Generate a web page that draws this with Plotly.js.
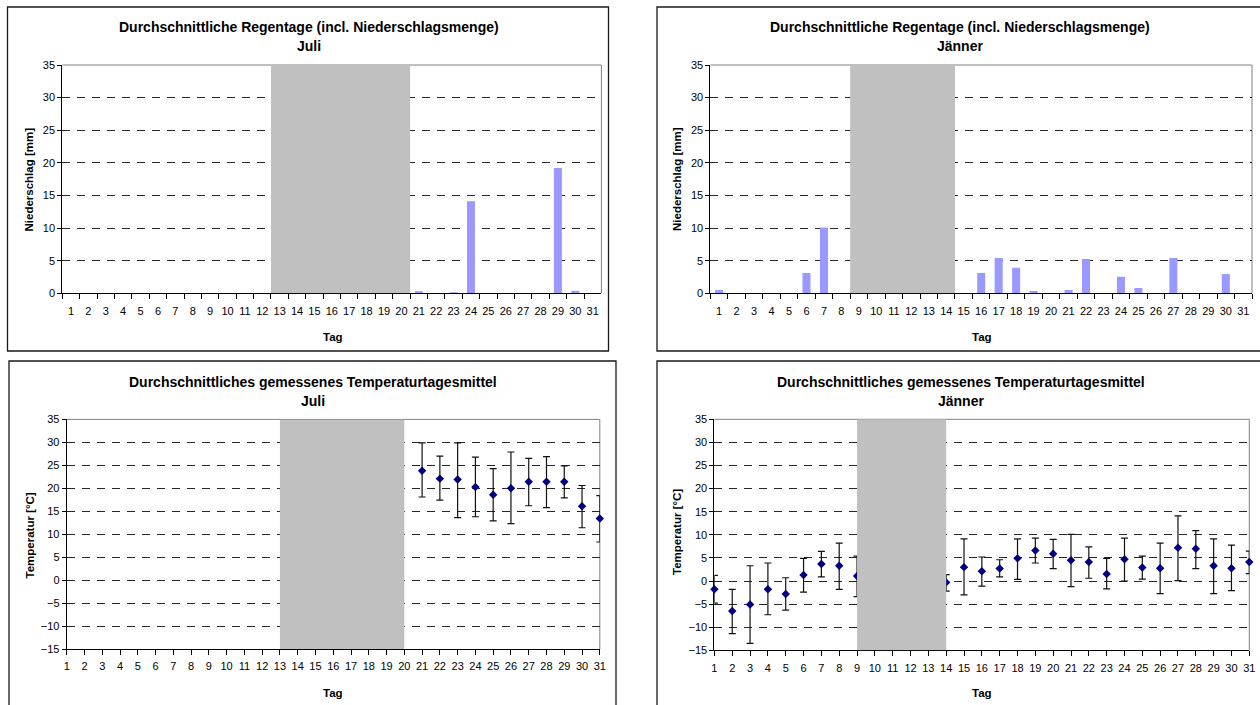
<!DOCTYPE html>
<html><head><meta charset="utf-8">
<script src="https://cdn.plot.ly/plotly-3.0.1.min.js"></script>
<style>html,body{margin:0;padding:0;background:#fff;}#chart{width:1260px;height:705px;}</style>
</head><body><div id="chart"></div>
<script>
// ---------- data ----------
const days = [1,2,3,4,5,6,7,8,9,10,11,12,13,14,15,16,17,18,19,20,21,22,23,24,25,26,27,28,29,30,31];
const dayLabels = ["1","2","3","4","5","6","7","8","9","10","11","12","13","14","15","16","17","18","19","20","21","22","23","24","25","26","27","28","29","30","31"];

const precipJuli = [0,0,0,0,0,0,0,0,0,0,0,0, null,null,null,null,null,null,null,null, 0.3,0,0.15,14.1,0,0,0,0,19.2,0.4,0];
const precipJaenner = [0.5,0,0,0,0,3.1,10.1,0, null,null,null,null,null,null, 0,3.1,5.4,3.9,0.35,0,0.5,5.25,0,2.55,0.8,0,5.4,0,0,2.95,0];

const tempJuliMean = [null,null,null,null,null,null,null,null,null,null,null,null,null,null,null,null,null,null,null,null, 23.8,22.1,21.9,20.3,18.6,20.0,21.4,21.4,21.4,16.1,13.4];
const tempJuliMax  = [null,null,null,null,null,null,null,null,null,null,null,null,null,null,null,null,null,null,null,null, 29.9,27.0,29.9,26.8,24.3,27.9,26.5,26.9,24.9,20.6,18.4];
const tempJuliMin  = [null,null,null,null,null,null,null,null,null,null,null,null,null,null,null,null,null,null,null,null, 18.1,17.4,13.6,13.8,12.9,12.3,16.2,15.8,17.9,11.4,8.3];

const tempJanMean = [-1.8,-6.5,-5.1,-1.8,-2.8,1.3,3.7,3.3,1.1, null,null,null,null, -0.3,3.0,2.1,2.7,4.9,6.6,5.9,4.5,4.1,1.5,4.7,2.9,2.75,7.2,7.0,3.3,2.75,4.1];
const tempJanMax  = [1.2,-1.8,3.3,3.9,0.7,4.9,6.4,8.2,5.4, null,null,null,null, 1.4,9.1,5.2,4.6,9.1,9.3,9.0,10.1,7.4,4.9,9.3,5.4,8.2,14.1,10.9,9.1,7.75,6.45];
const tempJanMin  = [-4.8,-11.4,-13.5,-7.3,-6.3,-2.4,0.9,-1.8,-3.4, null,null,null,null, -2.2,-3.0,-1.1,0.9,0.36,3.9,2.7,-1.2,0.6,-1.7,0,0.4,-2.75,0.1,2.7,-2.75,-2.1,1.6];

const missingJuli = [13, 20];
const missingJaenner = [9, 14];

const titlePrecip = "Durchschnittliche Regentage (incl. Niederschlagsmenge)";
const titleTemp = "Durchschnittliches gemessenes Temperaturtagesmittel";
const monthJuli = "Juli";
const monthJaenner = "Jänner";
const yTitlePrecip = "Niederschlag [mm]";
const yTitleTemp = "Temperatur [°C]";
const xTitle = "Tag";

// ---------- helpers ----------
const W = 1260, H = 705;
const px = v => v / W;
const py = v => 1 - v / H;
const FONT = "Liberation Sans, Arial, Helvetica, sans-serif";
const plus = (mx, mean) => mean.map((m, i) => m == null ? null : +(mx[i] - m).toFixed(3));
const minus = (mn, mean) => mean.map((m, i) => m == null ? null : +(m - mn[i]).toFixed(3));

const barColor = "#9999ff";
const gridStyle = {showgrid: true, gridcolor: "#262626", griddash: "8px,7px", gridwidth: 1};
const tickFont = {family: FONT, size: 11, color: "#000"};

function barTrace(vals, xa, ya) {
  return {type: "bar", x: dayLabels, y: vals, xaxis: xa, yaxis: ya,
    marker: {color: barColor, line: {width: 0}}, hoverinfo: "x+y"};
}
function tempTrace(mean, mx, mn, xa, ya) {
  return {type: "scatter", mode: "markers", x: days, y: mean, xaxis: xa, yaxis: ya,
    cliponaxis: false,
    marker: {symbol: "diamond", size: 6.5, color: "#000080"},
    error_y: {type: "data", symmetric: false, array: plus(mx, mean), arrayminus: minus(mn, mean),
      color: "#111", thickness: 1.2, width: 3.5}};
}

const data = [
  barTrace(precipJuli, "x", "y"),
  barTrace(precipJaenner, "x2", "y2"),
  tempTrace(tempJuliMean, tempJuliMax, tempJuliMin, "x3", "y3"),
  tempTrace(tempJanMean, tempJanMax, tempJanMin, "x4", "y4")
];

function catX(domain, anchor) {
  return {domain: domain, anchor: anchor, type: "category", range: [-0.5, 30.5],
    tickson: "boundaries", ticks: "outside", ticklen: 5, tickcolor: "#000", tickwidth: 1,
    showline: true, linecolor: "#000", linewidth: 1, showgrid: false, zeroline: false,
    tickangle: 0, tickfont: tickFont, ticklabelstandoff: 7, fixedrange: true};
}
function linX(domain, anchor) {
  return {domain: domain, anchor: anchor, type: "linear", range: [1, 31], tick0: 1, dtick: 1,
    ticks: "outside", ticklen: 5, tickcolor: "#000", tickwidth: 1,
    showline: true, linecolor: "#000", linewidth: 1, showgrid: false, zeroline: false,
    tickangle: 0, tickfont: tickFont, ticklabelstandoff: 2, fixedrange: true};
}
function yAx(domain, anchor, range) {
  return Object.assign({domain: domain, anchor: anchor, range: range, tick0: 0, dtick: 5,
    ticks: "outside", ticklen: 4, tickcolor: "#000", tickwidth: 1,
    showline: true, linecolor: "#000", linewidth: 1, zeroline: false,
    tickfont: tickFont, fixedrange: true}, gridStyle);
}

const layout = {
  width: W, height: H, margin: {l: 0, r: 0, t: 0, b: 0},
  paper_bgcolor: "#fff", plot_bgcolor: "#fff", showlegend: false,
  bargap: 0.54, font: {family: FONT, color: "#000"},
  xaxis:  catX([px(62.3), px(601.4)], "y"),
  yaxis:  yAx([py(293.3), py(65)], "x", [0, 35]),
  xaxis2: catX([px(710.4), px(1252)], "y2"),
  yaxis2: yAx([py(293.3), py(65)], "x2", [0, 35]),
  xaxis3: linX([px(66.7), px(599.8)], "y3"),
  yaxis3: yAx([py(649), py(419.4)], "x3", [-15, 35]),
  xaxis4: linX([px(714.4), px(1249.3)], "y4"),
  yaxis4: yAx([py(650.3), py(419.3)], "x4", [-15, 35]),
  shapes: [],
  annotations: []
};

// panel borders
[[7.5, 7, 608.5, 351], [657, 7, 1262, 351], [9, 361, 616, 712], [657, 361, 1262, 712]].forEach(b => {
  layout.shapes.push({type: "rect", xref: "paper", yref: "paper", x0: px(b[0]), x1: px(b[2]), y0: py(b[1]), y1: py(b[3]),
    line: {color: "#1a1a1a", width: 1.3}, fillcolor: "rgba(0,0,0,0)", layer: "below"});
});

// gray plot-area border (top + right)
["", "2", "3", "4"].forEach(s => {
  const xr = "x" + s + " domain", yr = "y" + s + " domain";
  layout.shapes.push({type: "line", xref: xr, yref: yr, x0: 0, x1: 1, y0: 1, y1: 1, line: {color: "#808080", width: 1}, layer: "below"});
  layout.shapes.push({type: "line", xref: xr, yref: yr, x0: 1, x1: 1, y0: 0, y1: 1, line: {color: "#808080", width: 1}, layer: "below"});
});

// gray bands for missing days
const gray = "#c0c0c0";
layout.shapes.push({type: "rect", xref: "x", yref: "y", x0: missingJuli[0] - 1.5, x1: missingJuli[1] - 0.5, y0: 0, y1: 35, fillcolor: gray, line: {width: 0}, layer: "above"});
layout.shapes.push({type: "rect", xref: "x2", yref: "y2", x0: missingJaenner[0] - 1.5, x1: missingJaenner[1] - 0.5, y0: 0, y1: 35, fillcolor: gray, line: {width: 0}, layer: "above"});
layout.shapes.push({type: "rect", xref: "x3", yref: "y3", x0: missingJuli[0], x1: missingJuli[1], y0: -15, y1: 35, fillcolor: gray, line: {width: 0}, layer: "above"});
layout.shapes.push({type: "rect", xref: "x4", yref: "y4", x0: missingJaenner[0], x1: missingJaenner[1], y0: -15, y1: 35, fillcolor: gray, line: {width: 0}, layer: "above"});

// text
function ann(text, x, y, size, opts) {
  layout.annotations.push(Object.assign({text: text, xref: "paper", yref: "paper", x: px(x), y: py(y),
    xanchor: "center", yanchor: "middle", showarrow: false,
    font: {family: FONT, size: size, color: "#000", weight: "bold"}}, opts || {}));
}
ann(titlePrecip, 309, 27, 14); ann(monthJuli, 309, 46, 14);
ann(titlePrecip, 959.5, 27, 14); ann(monthJaenner, 959.5, 45.5, 14);
ann(titleTemp, 313, 382, 14); ann(monthJuli, 313, 401, 14);
ann(titleTemp, 961.5, 382, 14); ann(monthJaenner, 961.5, 400.5, 14);

ann(yTitlePrecip, 29, 179.5, 11.5, {textangle: -90});
ann(yTitlePrecip, 677, 179, 11.5, {textangle: -90});
ann(yTitleTemp, 29.5, 536, 11.5, {textangle: -90});
ann(yTitleTemp, 677, 532, 11.5, {textangle: -90});

ann(xTitle, 333, 337, 11.5); ann(xTitle, 981.5, 337, 11.5);
ann(xTitle, 333, 693, 11.5); ann(xTitle, 982, 693, 11.5);

Plotly.newPlot("chart", data, layout, {displayModeBar: false, staticPlot: true});
</script>
</body></html>
